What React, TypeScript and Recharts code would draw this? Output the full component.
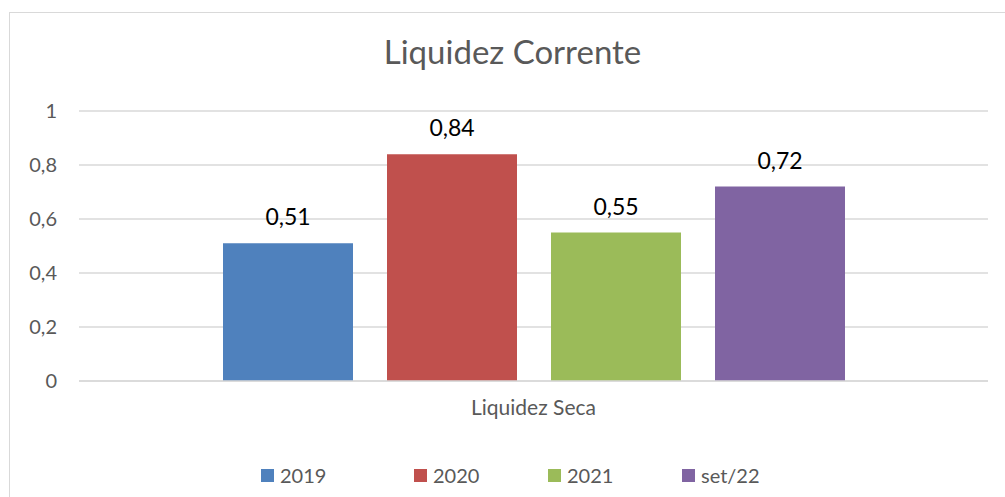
import React from "react";
import { BarChart, Bar, XAxis, YAxis, CartesianGrid, Legend, LabelList } from "recharts";

const categories = ["Liquidez Seca"];
const seriesNames = ["2019", "2020", "2021", "set/22"];
const values2019 = [0.51];
const values2020 = [0.84];
const values2021 = [0.55];
const valuesSet22 = [0.72];
const yTicks = [0, 0.2, 0.4, 0.6, 0.8, 1];
const colors = ["#4F81BD", "#C0504D", "#9BBB59", "#8064A2"];

const seriesValues = [values2019, values2020, values2021, valuesSet22];
const data = categories.map((c, i) => {
  const row: Record<string, string | number> = { category: c };
  seriesNames.forEach((s, k) => {
    row[s] = seriesValues[k][i];
  });
  return row;
});

const FONT = "Lato, 'Noto Sans', sans-serif";
const fmt = (v: number) => String(v).replace(".", ",");

const legendWidths = [153, 134, 134, 80];

const LegendContent = () => (
  <div style={{ display: "flex", alignItems: "center", height: 40, paddingLeft: 261, fontFamily: FONT }}>
    {seriesNames.map((s, i) => (
      <div key={s} style={{ display: "flex", alignItems: "center", width: legendWidths[i] }}>
        <span style={{ width: 13, height: 13, background: colors[i], display: "inline-block", marginRight: 6 }} />
        <span style={{ fontSize: 20, color: "#595959" }}>{s}</span>
      </div>
    ))}
  </div>
);

export default function App() {
  return (
    <div style={{ position: "absolute", left: 0, top: 0, width: 1005, height: 497, overflow: "hidden", background: "#fff" }}>
      <div style={{ position: "absolute", left: 9, top: 12, width: 1100, height: 600, border: "1px solid #d9d9d9", boxSizing: "border-box" }} />
      <div style={{ position: "absolute", left: 0, top: 31, width: 1025, textAlign: "center", fontFamily: FONT, fontSize: 33, color: "#595959", lineHeight: "40px" }}>
        Liquidez Corrente
      </div>
      <div style={{ position: "absolute", left: 0, top: 0 }}>
        <BarChart
          width={1005}
          height={497}
          data={data}
          margin={{ top: 111, right: 17, left: 0, bottom: 2 }}
          barSize={130}
          barGap={34}
        >
          <CartesianGrid vertical={false} stroke="#d9d9d9" strokeWidth={1.3} />
          <XAxis
            dataKey="category"
            height={74}
            tickLine={false}
            tickSize={0}
            tickMargin={19}
            axisLine={{ stroke: "#d9d9d9", strokeWidth: 1.3 }}
            tick={{ fill: "#595959", fontSize: 21, fontFamily: FONT }}
          />
          <YAxis
            width={79}
            domain={[0, 1]}
            ticks={yTicks}
            tickFormatter={fmt}
            axisLine={false}
            tickLine={false}
            tickSize={0}
            tickMargin={22}
            tick={{ fill: "#595959", fontSize: 20, fontFamily: FONT }}
          />
          <Legend verticalAlign="bottom" align="left" content={<LegendContent />} />
          {seriesNames.map((s, i) => (
            <Bar key={s} dataKey={s} fill={colors[i]} isAnimationActive={false}>
              <LabelList
                dataKey={s}
                position="top"
                offset={18}
                formatter={(v: number) => fmt(v)}
                style={{ fill: "#000", fontSize: 23, fontFamily: FONT }}
              />
            </Bar>
          ))}
        </BarChart>
      </div>
    </div>
  );
}
